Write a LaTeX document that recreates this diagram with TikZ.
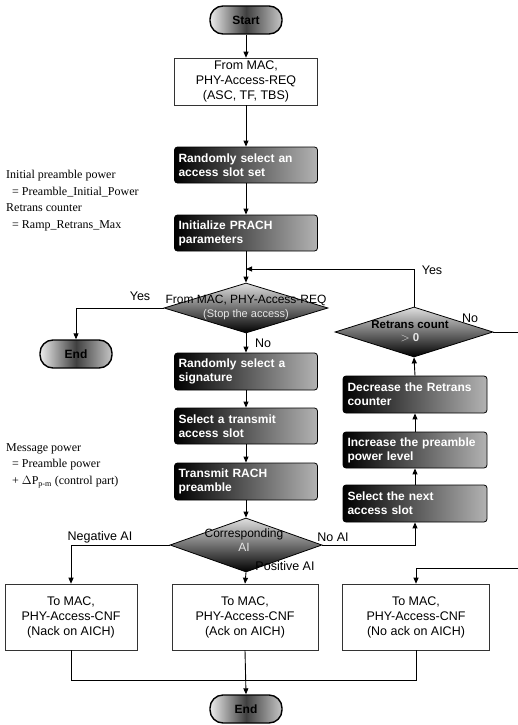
\documentclass[tikz,border=0pt]{standalone}
\usepackage{fontspec}
\setmainfont{Liberation Sans}
\newfontfamily\annofont{Liberation Serif}
\usetikzlibrary{shapes.geometric,arrows.meta}
\begin{document}
\begin{tikzpicture}[x=1pt,y=-1pt,
  line/.style={line width=0.9pt, black},
  arr/.style={line, -{Triangle[length=6pt,width=5pt]}},
  pill/.style={draw, line width=1.4pt, rounded corners=13pt, minimum width=72pt, minimum height=28pt,
    left color=gray!15, right color=gray!45, middle color=black!75, font=\bfseries\fontsize{12}{14}\selectfont},
  plainbox/.style={draw=black!80, line width=0.6pt, fill=white, minimum width=143pt, minimum height=47pt,
    align=center, font=\fontsize{12.5}{15}\selectfont, inner sep=2pt},
  darkbox/.style={draw=black, line width=0.8pt, rounded corners=3pt, left color=black, right color=gray!60,
    minimum width=143pt, minimum height=36pt, text width=135pt, align=left, text=white,
    font=\bfseries\fontsize{12}{14}\selectfont, inner sep=3pt},
  diam/.style={diamond, draw=black, line width=0.8pt, top color=gray!25, bottom color=black, inner sep=0pt},
  dtext/.style={align=center, font=\fontsize{12}{14}\selectfont, inner sep=0pt},
  lbl/.style={font=\fontsize{12.5}{14}\selectfont, inner sep=0pt},
  anno/.style={font=\annofont\fontsize{12}{16.7}\selectfont, align=left, anchor=north west, inner sep=0pt}
]
\useasboundingbox (0,0) rectangle (518,725);

% main column
\node[pill] (start) at (246,20) {Start};
\node[plainbox] (frommac) at (246,81.5) {From MAC,\\PHY-Access-REQ\\(ASC, TF, TBS)};
\node[darkbox] (rand1) at (246,165) {Randomly select an\\access slot set};
\node[darkbox] (init) at (246,233) {Initialize PRACH\\parameters};
\node[diam, minimum width=164pt, minimum height=50pt] (d1) at (246,308) {};
\node[dtext] (d1t) at (246,307) {From MAC, PHY-Access-REQ\\\textcolor{gray!20}{\fontsize{11}{13}\selectfont(Stop the access)}};
\node[pill] (endL) at (76,354) {End};
\node[darkbox, minimum height=37pt] (rand2) at (246,371.5) {Randomly select a\\signature};
\node[darkbox] (sel) at (246,426) {Select a transmit\\access slot};
\node[darkbox, minimum height=37pt] (trans) at (246,481.5) {Transmit RACH\\preamble};
\node[diam, minimum width=152pt, minimum height=54pt] (d2) at (246,545) {};
\node[dtext] (d2t) at (244,540) {Corresponding\\\textcolor{gray!20}{AI}};

% right column
\node[diam, minimum width=158pt, minimum height=50pt] (d3) at (414,332) {};
\node[dtext, font=\bfseries\fontsize{11.5}{13}\selectfont] (d3t) at (410,331) {Retrans count\\\textcolor{gray!20}{$>$ 0}};
\node[darkbox, minimum width=144pt, minimum height=37pt] (decr) at (415,394.5) {Decrease the Retrans\\counter};
\node[darkbox, minimum width=144pt] (incr) at (415,450) {Increase the preamble\\power level};
\node[darkbox, minimum width=144pt, minimum height=37pt] (selnext) at (415,503.5) {Select the next\\access slot};

% bottom boxes
\node[plainbox, minimum width=132pt, minimum height=66pt] (nack) at (71,617) {To MAC,\\PHY-Access-CNF\\(Nack on AICH)};
\node[plainbox, minimum width=146pt, minimum height=66pt] (ack) at (245,617) {To MAC,\\PHY-Access-CNF\\(Ack on AICH)};
\node[plainbox, minimum width=147pt, minimum height=66pt] (noack) at (416,617) {To MAC,\\PHY-Access-CNF\\(No ack on AICH)};
\node[pill] (endB) at (246,709) {End};

% annotations
\node[anno] (ann1) at (6,170) {Initial preamble power\\\ \ = Preamble\_Initial\_Power\\Retrans counter\\\ \ = Ramp\_Retrans\_Max};
\node[anno] (ann2) at (6,443) {Message power\\\ \ = Preamble power\\\ \ + $\Delta$P\textsubscript{p-m} (control part)};

% coordinates
\coordinate (join) at (246,269);
\coordinate (rightA) at (518,332);
\coordinate (rightB) at (518,568);
\coordinate (bl) at (71,680);
\coordinate (br) at (416,680);

% connectors
\draw[arr] (start.south) -- (frommac.north);
\draw[arr] (frommac.south) -- (rand1.north);
\draw[arr] (rand1.south) -- (init.north);
\draw[arr] (init.south) -- (d1.north);
\draw[arr] (d3.north) |- (join);
\draw[arr] (d1.west) -| (endL.north);
\draw[arr] (d1.south) -- (rand2.north);
\draw[arr] (rand2.south) -- (sel.north);
\draw[arr] (sel.south) -- (trans.north);
\draw[arr] (trans.south) -- (d2.north);
\draw[line] (d3.east) -- (rightA);
\draw[arr] (decr.north) -- (d3.south);
\draw[arr] (incr.north) -- (decr.south);
\draw[arr] (selnext.north) -- (incr.south);
\draw[arr] (d2.east) -| (selnext.south);
\draw[arr] (d2.west) -| (nack.north);
\draw[arr] (d2.south) -- (ack.north);
\draw[arr] (rightB) -| (noack.north);
\draw[line] (nack.south) -- (bl) -- (br) -- (noack.south);
\draw[arr] (ack.south) -- (endB.north);

% labels
\node[lbl] (yes1) at (140,296) {Yes};
\node[lbl] (yes2) at (432,270) {Yes};
\node[lbl] (no1) at (470,318) {No};
\node[lbl] (no2) at (263,343) {No};
\node[lbl] (negai) at (100,537) {Negative AI};
\node[lbl] (noai) at (333,537) {No AI};
\node[lbl] (posai) at (285,566) {Positive AI};
\end{tikzpicture}
\end{document}
